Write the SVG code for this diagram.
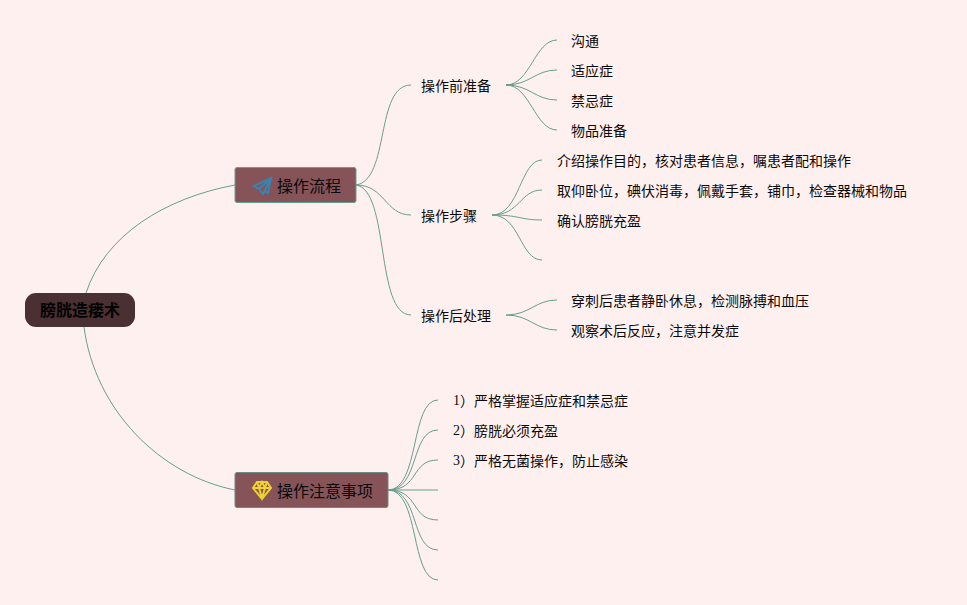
<svg xmlns="http://www.w3.org/2000/svg" width="967" height="605" viewBox="0 0 967 605">
<style>
text{font-family:"Noto Sans CJK SC","Liberation Sans",sans-serif;font-size:14px;fill:#0a0a0a;dominant-baseline:central}
.t{font-size:16px}
.r{font-size:16px;font-weight:700;fill:#000}
.c path{fill:none;stroke:#659f8d;stroke-width:1}
.n{font-family:"Liberation Serif","Noto Sans CJK SC",serif}
</style>
<rect width="967" height="605" fill="#fff0f0"/>
<g class="c" id="connectors">
<path d="M86 293C105 235 165 198 235 185"/>
<path d="M84 327C95 410 160 475 235 490"/>
<path d="M356 185C390 180 375 85 411 85"/>
<path d="M356 185C385 185 385 215 411 215"/>
<path d="M356 185C390 190 375 315 411 315"/>
<path d="M506 85C530 85 535 40 557 40"/>
<path d="M506 85C530 85 535 70 557 70"/>
<path d="M506 85C530 85 535 100 557 100"/>
<path d="M506 85C530 85 535 130 557 130"/>
<path d="M492 215C520 215 520 160 542 160"/>
<path d="M492 215C520 215 520 190 542 190"/>
<path d="M492 215C520 215 520 220 542 220"/>
<path d="M492 215C520 215 520 260 542 260"/>
<path d="M506 315C530 315 535 300 557 300"/>
<path d="M506 315C530 315 535 330 557 330"/>
<path d="M388 490C420 490 410 400 438 400"/>
<path d="M388 490C420 490 410 430 438 430"/>
<path d="M388 490C420 490 410 460 438 460"/>
<path d="M388 490H438"/>
<path d="M388 490C420 490 410 520 438 520"/>
<path d="M388 490C420 490 410 550 438 550"/>
<path d="M388 490C420 490 410 580 438 580"/>
</g>
<g id="root"><rect x="25" y="293" width="110" height="34" rx="11" fill="#4a3033"/><text class="r" x="80" y="309" text-anchor="middle">膀胱造瘘术</text></g>
<g id="topic1"><rect x="235" y="167.500" width="121" height="35" rx="2" fill="#865458" stroke="#659f8d"/>
<path d="M271 178L254 186L259 189L263 194L265 191L268 193ZM271 178L259 189M271 178L263 194" fill="none" stroke="#3a82b0" stroke-width="2"/>
<text class="t" x="277" y="184.500">操作流程</text></g>
<g id="topic2"><rect x="235" y="472.500" width="153" height="35" rx="2" fill="#865458" stroke="#6b8a80"/>
<path d="M257 482H267L271 488L262 499L253 488ZM253 488H271M259 488L262 498L265 488M257 482L259 488L262 482L265 488L267 482" fill="none" stroke="#f2d12e" stroke-width="2"/>
<text class="t" x="277" y="489.500">操作注意事项</text></g>
<g id="n1"><text x="421" y="84.500">操作前准备</text></g>
<g id="n2"><text x="421" y="214.500">操作步骤</text></g>
<g id="n3"><text x="421" y="314.500">操作后处理</text></g>
<g id="n4"><text x="571" y="40">沟通</text></g>
<g id="n5"><text x="571" y="70">适应症</text></g>
<g id="n6"><text x="571" y="100">禁忌症</text></g>
<g id="n7"><text x="571" y="130">物品准备</text></g>
<g id="n8"><text x="557" y="160">介绍操作目的，核对患者信息，嘱患者配和操作</text></g>
<g id="n9"><text x="557" y="190">取仰卧位，碘伏消毒，佩戴手套，铺巾，检查器械和物品</text></g>
<g id="n10"><text x="557" y="220">确认膀胱充盈</text></g>
<g id="n11"><text x="571" y="300">穿刺后患者静卧休息，检测脉搏和血压</text></g>
<g id="n12"><text x="571" y="330">观察术后反应，注意并发症</text></g>
<g id="n13"><text x="453" y="400"><tspan class="n">1</tspan>）严格掌握适应症和禁忌症</text></g>
<g id="n14"><text x="453" y="430"><tspan class="n">2</tspan>）膀胱必须充盈</text></g>
<g id="n15"><text x="453" y="460"><tspan class="n">3</tspan>）严格无菌操作，防止感染</text></g>
</svg>
